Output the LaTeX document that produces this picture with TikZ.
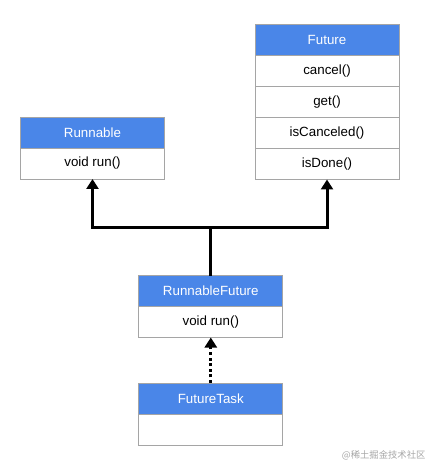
\documentclass[tikz,border=0pt]{standalone}
\usepackage{fontspec}
\setmainfont{Liberation Sans}
\newfontfamily\cjkfont{Noto Sans CJK SC}
\usetikzlibrary{positioning,arrows.meta}
\definecolor{headblue}{RGB}{74,134,232}
\definecolor{boxgray}{RGB}{165,165,165}

\begin{document}
\begin{tikzpicture}[x=0.75pt,y=0.75pt,
    row/.style={draw=boxgray,line width=0.6pt,minimum width=108pt,minimum height=23.25pt,
                inner sep=0pt,outer sep=0pt,font=\fontsize{10}{12}\selectfont},
    head/.style={row,fill=headblue,text=white},
    member/.style={row,fill=white,text=black},
    inherit/.style={line width=2.25pt,-{Triangle[length=7.5pt,width=9pt]}},
    implement/.style={inherit,dash pattern=on 2.2pt off 2pt}
  ]
  \useasboundingbox (0,0) rectangle (436,-473);
  % Runnable
  \node[head,anchor=north] (run) at (92.5,-117) {Runnable};
  \node[member,below=0pt of run] (runrun) {void run()};
  % Future
  \node[head,anchor=north] (fut) at (327,-24.5) {Future};
  \node[member,below=0pt of fut] (futcancel) {cancel()};
  \node[member,below=0pt of futcancel] (futget) {get()};
  \node[member,below=0pt of futget] (futcanceled) {isCanceled()};
  \node[member,below=0pt of futcanceled] (futdone) {isDone()};
  % RunnableFuture
  \node[head,anchor=north] (rf) at (210.8,-275.5) {RunnableFuture};
  \node[member,below=0pt of rf] (rfrun) {void run()};
  % FutureTask
  \node[head,anchor=north] (ft) at (210.8,-383) {FutureTask};
  \node[member,below=0pt of ft] (ftbody) {};
  % connectors
  \coordinate (split) at (rf.north |- 0,-227.7);
  \draw[inherit] (rf.north) -- (split) -| (runrun.south);
  \draw[inherit] (split) -| (futdone.south);
  \draw[implement] (ft.north) -- (rfrun.south);
  % watermark
  \node[text=black!35,font=\cjkfont\fontsize{7}{8}\selectfont] (mark) at (383.7,-455) {@稀土掘金技术社区};
\end{tikzpicture}
\end{document}
